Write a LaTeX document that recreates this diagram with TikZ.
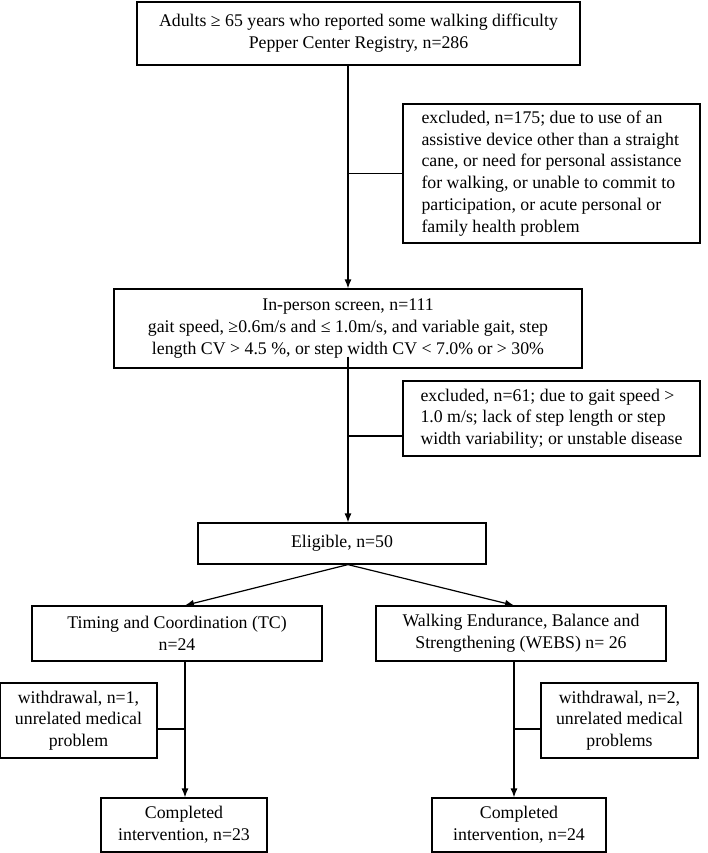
\documentclass[tikz,border=0pt]{standalone}
\usepackage{fontspec}
\setmainfont{Liberation Serif}
\usetikzlibrary{arrows.meta, positioning, calc}

\newcommand{\chu}{\fontsize{17.8}{21.7}\selectfont}
\tikzset{
  hop/.style={draw, line width=1.2pt, align=center, inner sep=0pt, font=\chu},
  ghichu/.style={hop, align=left},
  noi/.style={line width=1.2pt},
  mui/.style={noi, -{Latex[length=9pt,width=7pt]}},
}

\begin{document}
\begin{tikzpicture}[x=1pt, y=-1pt]

            \useasboundingbox (0,0) rectangle (707,853);

            % Hộp đầu tiên
            \node[hop, minimum width=443pt, minimum height=63pt] (dau) at (358.5,33.5)
              {Adults ≥ 65 years who reported some walking difficulty\\ Pepper Center Registry, n=286};

            % Hộp loại trừ thứ nhất
            \node[ghichu, minimum width=297pt, minimum height=139pt] (loai1) at (551.5,173.5)
              {excluded, n=175; due to use of an\\ assistive device other than a straight\\ cane, or need for personal assistance\\ for walking, or unable to commit to\\ participation, or acute personal or\\ family health problem};

            % Hộp sàng lọc
            \node[hop, minimum width=468pt, minimum height=79pt] (sang) at (348,328.5)
              {In-person screen, n=111\\ gait speed, ≥0.6m/s and ≤ 1.0m/s, and variable gait, step\\ length CV > 4.5 \%, or step width CV < 7.0\% or > 30\%};

            % Hộp loại trừ thứ hai
            \node[ghichu, minimum width=297pt, minimum height=75pt] (loai2) at (551.5,418.5)
              {excluded, n=61; due to gait speed >\\ 1.0 m/s; lack of step length or step\\ width variability; or unstable disease};

            % Hộp đủ điều kiện
            \node[hop, minimum width=288pt, minimum height=41pt] (du) at (342,543.5) {Eligible, n=50};

            % Hai nhóm
            \node[hop, minimum width=290pt, minimum height=55pt] (tc) at (177,633.5)
              {Timing and Coordination (TC)\\ n=24};
            \node[hop, minimum width=290pt, minimum height=55pt] (webs) at (521,633.5)
              {Walking Endurance, Balance and\\ Strengthening (WEBS) n= 26};

            % Rút lui
            \node[hop, minimum width=157pt, minimum height=75pt] (rut1) at (78.5,720.5)
              {withdrawal, n=1,\\ unrelated medical\\ problem};
            \node[hop, minimum width=157pt, minimum height=75pt] (rut2) at (619.5,720.5)
              {withdrawal, n=2,\\ unrelated medical\\ problems};

            % Hoàn thành
            \node[hop, minimum width=166pt, minimum height=54pt] (xong1) at (184,825)
              {Completed\\ intervention, n=23};
            \node[hop, minimum width=174pt, minimum height=54pt] (xong2) at (519,825)
              {Completed\\ intervention, n=24};

            % Điểm nối
            \coordinate (n2) at (348,436);
            \coordinate (t1) at (185,729);
            \coordinate (t2) at (514,729);

            % Vẽ các đường nối
            \draw[mui] (dau.south -| sang.north) -- (sang.north);
            \draw[noi] (sang.north |- loai1.west) -- (loai1.west);
            \draw[mui] ($(sang.south)+(0,-12)$) -- (sang.south |- du.north);
            \draw[noi] (n2) -- (n2 -| loai2.west);
            \draw[mui] (du.south -| sang.south) -- (tc.north -| t1);
            \draw[mui] (du.south -| sang.south) -- (webs.north -| t2);
            \draw[mui] (tc.south -| t1) -- (xong1.north -| t1);
            \draw[mui] (webs.south -| t2) -- (xong2.north -| t2);
            \draw[noi] (t1) -- (rut1.east |- t1);
            \draw[noi] (t2) -- (rut2.west |- t2);

            \end{tikzpicture}
\end{document}
